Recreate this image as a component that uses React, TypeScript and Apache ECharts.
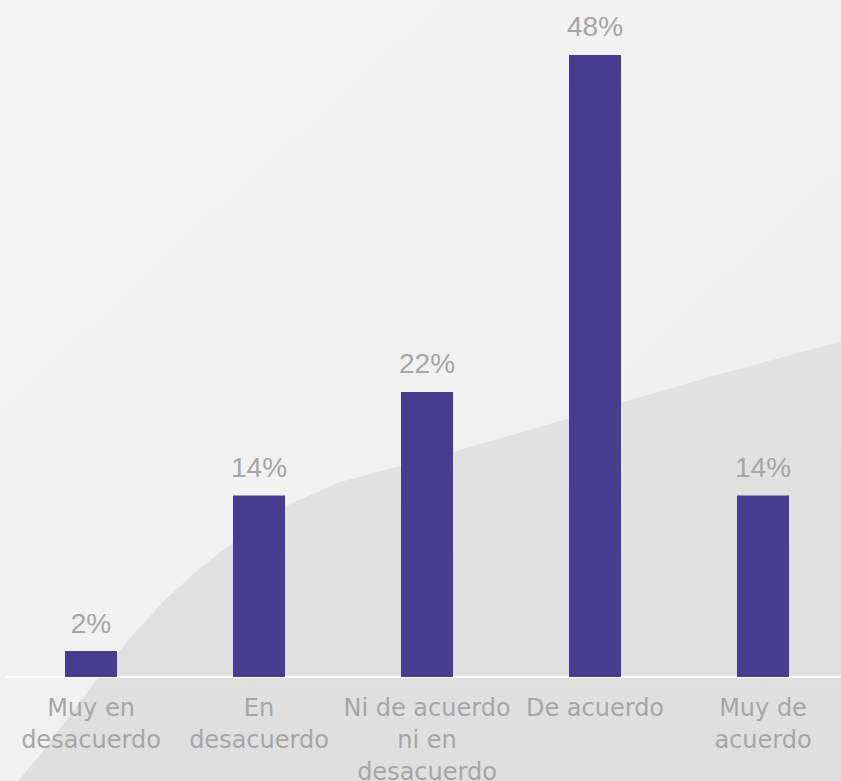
import React, { useEffect, useRef } from "react";
import * as echarts from "echarts";

const categories = [
  "Muy en\ndesacuerdo",
  "En\ndesacuerdo",
  "Ni de acuerdo\nni en\ndesacuerdo",
  "De acuerdo",
  "Muy de\nacuerdo",
];
const values = [2, 14, 22, 48, 14];

export default function App() {
  const ref = useRef<HTMLDivElement>(null);
  useEffect(() => {
    if (!ref.current) return;
    const chart = echarts.init(ref.current, null, { renderer: "svg" });
    chart.setOption({
      animation: false,
      backgroundColor: "#f2f2f2",
      graphic: [
        {
          type: "rect",
          z: -10,
          silent: true,
          shape: { x: 0, y: 0, width: 847, height: 781 },
          style: {
            fill: new echarts.graphic.LinearGradient(0, 0, 1, 1, [
              { offset: 0, color: "#f5f5f5" },
              { offset: 1, color: "#ededed" },
            ]),
          },
        },
        {
          type: "polygon",
          z: -9,
          silent: true,
          shape: {
            points: [
              [18, 781],
              [40, 755],
              [65, 722],
              [95, 682],
              [130, 638],
              [165, 600],
              [200, 568],
              [245, 533],
              [290, 504],
              [340, 482],
              [400, 466],
              [453, 452],
              [540, 427],
              [620, 403],
              [720, 374],
              [847, 340],
              [847, 781],
            ],
          },
          style: {
            fill: new echarts.graphic.LinearGradient(0, 0, 0, 1, [
              { offset: 0, color: "#e2e2e2" },
              { offset: 1, color: "#dfdfdf" },
            ]),
          },
        },
      ],
      grid: {
        left: 7,
        right: 0,
        top: 29,
        bottom: 104,
        containLabel: false,
        outerBoundsMode: "none",
      },
      xAxis: {
        type: "category",
        data: categories,
        axisLine: { show: true, lineStyle: { color: "#ffffff", width: 2 } },
        axisTick: { show: false },
        axisLabel: {
          interval: 0,
          margin: 15,
          color: "#a6a6a6",
          fontFamily: "DejaVu Sans",
          fontSize: 24,
          lineHeight: 32,
          align: "center",
          hideOverlap: false,
        },
      },
      yAxis: {
        type: "value",
        min: 0,
        max: 50,
        show: false,
        splitLine: { show: false },
      },
      series: [
        {
          type: "bar",
          data: values,
          barWidth: 52,
          itemStyle: { color: "#483c8e" },
          label: {
            show: true,
            position: "top",
            distance: 14,
            formatter: "{c}%",
            color: "#a6a6a6",
            fontFamily: "Liberation Sans",
            fontSize: 28,
            lineHeight: 28,
          },
        },
      ],
    });
    return () => chart.dispose();
  }, []);
  return (
    <div
      style={{
        position: "absolute",
        left: 0,
        top: 0,
        width: 841,
        height: 781,
        overflow: "hidden",
      }}
    >
      <div ref={ref} style={{ width: 847, height: 781 }} />
    </div>
  );
}
